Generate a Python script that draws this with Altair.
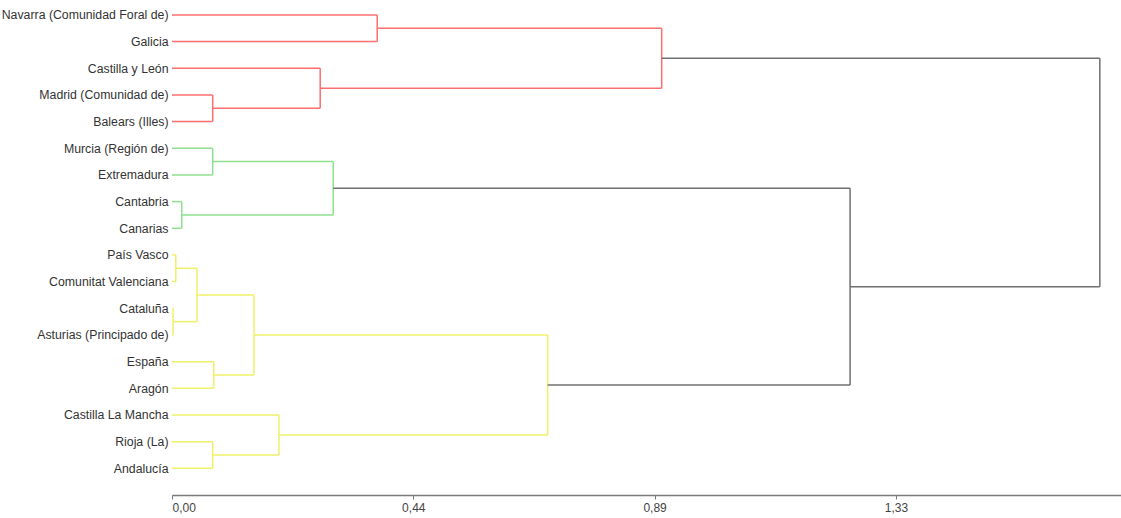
import json
import altair as alt
import pandas as pd

# Leaf order (top to bottom)
leaves = [
    "Navarra (Comunidad Foral de)", "Galicia", "Castilla y León",
    "Madrid (Comunidad de)", "Balears (Illes)", "Murcia (Región de)",
    "Extremadura", "Cantabria", "Canarias", "País Vasco",
    "Comunitat Valenciana", "Cataluña", "Asturias (Principado de)",
    "España", "Aragón", "Castilla La Mancha", "Rioja (La)", "Andalucía",
]

# Merges: children (leaf name or merge id "mN"), distance, cluster group
merge_ids = ["m1", "m2", "m3", "m4", "m5", "m6", "m7", "m8", "m9", "m10",
             "m11", "m12", "m13", "m14", "m15", "m16", "m17"]
merge_left = ["Madrid (Comunidad de)", "Castilla y León", "Navarra (Comunidad Foral de)", "m3",
              "Murcia (Región de)", "Cantabria", "m5",
              "País Vasco", "Cataluña", "m8", "España", "m10", "Rioja (La)",
              "Castilla La Mancha", "m12", "m7", "m4"]
merge_right = ["Balears (Illes)", "m1", "Galicia", "m2",
               "Extremadura", "Canarias", "m6",
               "Comunitat Valenciana", "Asturias (Principado de)", "m9", "Aragón", "m11",
               "Andalucía", "m13", "m14", "m15", "m16"]
merge_height = [0.075, 0.273, 0.378, 0.902,
                0.075, 0.018, 0.297,
                0.007, 0.002, 0.046, 0.077, 0.151, 0.075, 0.197, 0.692,
                1.249, 1.709]
merge_group = ["r", "r", "r", "r", "g", "g", "g",
               "y", "y", "y", "y", "y", "y", "y", "y", "k", "k"]

tick_values = [0.0, 4 / 9, 8 / 9, 4 / 3]

# Build segments from the tree
pos = {name: float(i) for i, name in enumerate(leaves)}
hgt = {name: 0.0 for name in leaves}
rows = []
for mid, a, b, h, g in zip(merge_ids, merge_left, merge_right, merge_height, merge_group):
    ya, yb = pos[a], pos[b]
    rows.append(dict(x=hgt[a], x2=h, y=ya, y2=ya, grp=g))
    rows.append(dict(x=hgt[b], x2=h, y=yb, y2=yb, grp=g))
    rows.append(dict(x=h, x2=h, y=ya, y2=yb, grp=g))
    pos[mid] = (ya + yb) / 2
    hgt[mid] = h
seg = pd.DataFrame(rows)

label_expr = json.dumps(leaves, ensure_ascii=False) + "[round(datum.value)]"

chart = alt.Chart(seg).mark_rule(strokeWidth=1.5).encode(
    x=alt.X("x:Q",
            scale=alt.Scale(domain=[0, 1.748], nice=False, zero=False),
            axis=alt.Axis(values=tick_values, title=None, grid=False,
                          labelExpr="replace(format(datum.value, '.2f'), '.', ',')",
                          domainColor="#7a7a7a", domainWidth=1.5,
                          tickColor="#7a7a7a", tickSize=4, tickWidth=1,
                          labelColor="#444444", labelFontSize=12,
                          labelFont="Liberation Sans", labelPadding=3)),
    x2="x2:Q",
    y=alt.Y("y:Q",
            scale=alt.Scale(domain=[-0.56, 18], nice=False, zero=False, reverse=True),
            axis=alt.Axis(values=list(range(len(leaves))), title=None, grid=False,
                          labelExpr=label_expr, domain=False, ticks=False,
                          labelColor="#333333", labelFontSize=12.3,
                          labelFont="Liberation Sans", labelPadding=4,
                          labelLimit=400)),
    y2="y2:Q",
    color=alt.Color("grp:N",
                    scale=alt.Scale(domain=["r", "g", "y", "k"],
                                    range=["#ff6e6e", "#8fe08f", "#f0f068", "#707070"]),
                    legend=None),
).properties(
    width=949, height=495,
    autosize=alt.AutoSizeParams(type="none"),
    padding={"left": 172, "top": 0, "right": 0, "bottom": 23},
    background="white",
).configure_view(strokeWidth=0, stroke=None)

chart.save("out.html", embed_options={"renderer": "svg", "actions": False})
